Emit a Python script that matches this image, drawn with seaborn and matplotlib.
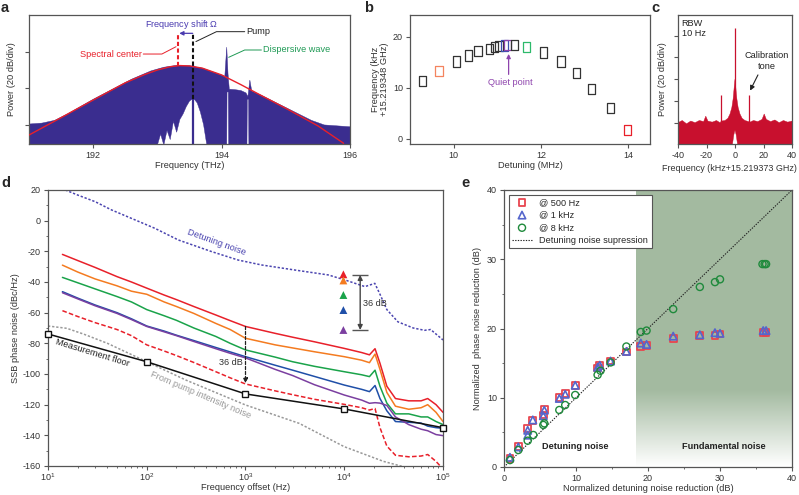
import numpy as np
import matplotlib
matplotlib.use("Agg")
import matplotlib.pyplot as plt
import seaborn as sns
from matplotlib.path import Path
from matplotlib.ticker import MultipleLocator, LogLocator, NullFormatter

sns.set_style("ticks")
plt.rcParams['font.family'] = ['Liberation Sans', 'DejaVu Sans']
plt.rcParams['mathtext.fontset'] = 'custom'
plt.rcParams['mathtext.rm'] = 'Liberation Sans'
plt.rcParams['mathtext.it'] = 'Liberation Sans:italic'
plt.rcParams['axes.unicode_minus'] = False
plt.rcParams['font.size'] = 6.6
plt.rcParams['xtick.labelsize'] = 6.5
plt.rcParams['ytick.labelsize'] = 6.5
plt.rcParams['axes.labelsize'] = 6.7
plt.rcParams['axes.edgecolor'] = '#555555'
plt.rcParams['axes.linewidth'] = 0.9
plt.rcParams['xtick.color'] = '#555555'
plt.rcParams['ytick.color'] = '#555555'
plt.rcParams['xtick.labelcolor'] = '#333333'
plt.rcParams['ytick.labelcolor'] = '#333333'
plt.rcParams['axes.labelcolor'] = '#333333'
plt.rcParams['xtick.major.size'] = 3
plt.rcParams['ytick.major.size'] = 3
plt.rcParams['xtick.minor.size'] = 1.5
plt.rcParams['ytick.minor.size'] = 1.5
plt.rcParams['xtick.major.pad'] = 2
plt.rcParams['ytick.major.pad'] = 2

FS = 6.6

# ---- a: optical spectrum ----
spec_hi_thz = [191.0, 191.2, 191.4, 191.6, 191.8, 192.0, 192.3, 192.6, 192.9, 193.1, 193.3, 193.5,
               193.7, 193.9, 194.05, 194.08, 194.1, 194.12, 194.2, 194.3, 194.38, 194.41, 194.44,
               194.47, 194.6, 194.8, 195.0, 195.2, 195.4, 195.6, 195.8, 196.0]
spec_hi_db = [0.5, 1.0, 2.5, 6, 10, 14, 19.5, 25, 29.5, 31.5, 32.5, 32.3,
              31, 28.5, 26.5, 42.5, 28, 19.5, 19.3, 18.8, 17.5, 15.5, 24.5,
              18.5, 16.5, 13, 9.5, 6, 2.5, 0, -0.5, -1]
spec_lo_thz = [191.0, 193.0, 193.05, 193.1, 193.15, 193.2, 193.25, 193.3, 193.35, 193.4, 193.45,
               193.5, 193.53, 193.58, 193.62, 193.67, 193.72, 193.77, 194.08, 194.085, 194.105,
               194.11, 194.395, 194.4, 194.42, 194.425, 196.0]
spec_lo_db = [-11, -11, -5, -11, -3, -8, 2, -4, 3, 6, 10,
              13, 13.8, 13.8, 12, 7, 0, -11, -11, 18, 18,
              -11, -11, 14, 14, -11, -11]
fit_thz = [191.0, 191.5, 192.0, 192.5, 192.8, 193.0, 193.2, 193.35, 193.5, 193.7, 194.0, 194.3,
           194.6, 195.0, 195.5, 195.9]
fit_db = [-5.5, 4, 13.6, 23, 27.5, 30, 31.8, 32.4, 32.2, 31, 27.3, 22, 16.4, 9.1, -0.5, -10]
pump_thz = 193.55
center_thz = 193.32

# ---- b: repetition rate vs detuning ----
det_mhz = [9.28, 9.66, 10.06, 10.34, 10.56, 10.82, 10.94, 11.04, 11.16, 11.24, 11.40, 11.67,
           12.06, 12.46, 12.82, 13.16, 13.59, 13.99]
rep_khz = [11.3, 13.3, 15.1, 16.3, 17.1, 17.5, 18.0, 18.1, 18.25, 18.3, 18.4, 18.0,
           16.9, 15.1, 12.9, 9.8, 6.1, 1.75]
rep_colors = ['#333333', '#f4845f', '#333333', '#333333', '#333333', '#333333', '#333333',
              '#333333', '#3d4fb0', '#8e44ad', '#333333', '#2dba6b', '#333333', '#333333',
              '#333333', '#333333', '#333333', '#e8202a']

# ---- c: RF beat note ----
c_hi_khz = [-40, -37, -34, -31, -28, -25, -22, -20.5, -19, -16, -13, -10.5, -9.5, -7, -5, -3.5,
            -2.2, -1.3, -0.6, 0, 0.6, 1.3, 2.2, 3.5, 5, 7, 9.5, 10.5, 13, 16, 19, 20.5, 22, 25,
            28, 31, 34, 37, 40]
c_hi_db = [0, 2, -1, 1.5, 0, 2, 1, 6, 1.5, 0.5, 2, 0, 1.5, 2, 4, 8,
           14, 22, 32, 40, 32, 22, 14, 8, 4, 2, 1, 0.5, 2, 1, 3, 8, 3, 1,
           2.5, 0, 2, 0.5, 1.5]
c_lo_khz = [-40, -1.8, -0.8, 0, 0.8, 1.8, 40]
c_lo_db = [-20, -20, -11, -7, -11, -20, -20]
c_spike_khz = [-10, 0, 10]
c_spike_db = [25.5, 87, 25.5]

# ---- d: phase noise ----
pn_hz = [14, 20, 30, 50, 70, 100, 150, 200, 300, 500, 700, 1000, 2000, 3000, 5000, 10000,
         15000, 18000, 20500, 23000, 27000, 33000, 45000, 60000, 70000, 85000, 100000]
pn_red = [-22, -26, -30.5, -36.5, -40, -44, -48.5, -51.5, -56, -61.5, -65.2, -69, -73.5, -76,
          -79, -83.3, -86, -87.5, -83.5, -93, -108, -116, -117.5, -117.5, -116, -120, -125]
pn_orange = [-29, -33.5, -38, -42.5, -46, -48, -53, -56, -60.5, -67, -71, -76.7, -81, -83,
             -85.5, -88.7, -91, -92.6, -87, -97, -112, -121, -123, -122, -120, -125, -131]
pn_green = [-37, -40.5, -44.5, -49.5, -53, -58, -62, -65, -70, -75.5, -80, -84.3, -89, -92,
            -95, -98.5, -100.5, -101.7, -97.5, -108, -119, -126, -126, -128, -128, -131, -133]
pn_blue = [-46.3, -50.5, -55, -60, -64, -68.7, -72, -74.7, -78.2, -82.7, -85.6, -88.7, -94.3,
           -97.5, -101.6, -107.2, -110, -111.5, -107.5, -116, -124, -131, -131.5, -132, -134,
           -135, -135.4]
pn_purple = [-47, -51, -55.5, -60.5, -64.5, -69, -72.5, -75, -78.8, -83.5, -86.5, -89.5, -97,
             -101, -107, -113.7, -117, -119.1, -118.7, -119, -120.5, -128, -133, -136, -137,
             -139.5, -140.2]
pn_red_dash = [-58.7, -62.5, -66.5, -71, -75, -81, -85, -88, -92.5, -98.5, -102.5, -106.5, -111,
               -113.5, -116.5, -119.8, -122, -123.5, -122.5, -135, -147, -153, -154, -153.5,
               -152.5, -157, -162]
det_noise_hz = [15, 20, 30, 44, 70, 121, 209, 455, 845, 1458, 3170, 6900, 10200, 16200, 20400,
                23000, 27000, 35000, 50000, 65000, 75000, 100000]
det_noise_db = [20, 16.7, 12.4, 7, 1.5, -5, -12.6, -20.2, -25.7, -28.9, -32.2, -35.4, -38.7, -43,
                -40.9, -48, -58, -66, -70, -71.5, -71, -77.8]
floor_hz = [10, 100, 1000, 10000, 100000]
floor_db = [-73.9, -92, -113, -122.8, -135]
pump_rin_hz = [10, 15.5, 23, 40, 100, 250, 1000, 3500, 10000, 25000, 40000]
pump_rin_db = [-68.7, -70.2, -74, -80, -92, -104, -120.2, -132.2, -147.4, -157, -160.5]
tri_db = [-35, -39, -48.5, -58.3, -71.3]
tri_colors = ['#e8202a', '#f47b20', '#1aa34a', '#1f4fa8', '#7b3fa0']

# ---- e: noise reduction ----
e_x_500 = [0.83, 1.99, 3.29, 4.0, 5.46, 5.6, 7.68, 8.5, 9.89, 13.0, 13.3, 14.8, 17.0, 19.0, 19.8,
           23.5, 27.2, 29.3, 30.0, 36.0, 36.4]
e_y_500 = [1.2, 3.0, 5.55, 6.75, 7.5, 8.3, 10.0, 10.6, 11.8, 14.3, 14.6, 15.3, 16.6, 17.4, 17.6,
           18.6, 19.0, 19.0, 19.2, 19.4, 19.4]
e_x_1k = [0.83, 1.99, 3.29, 3.29, 4.0, 5.46, 5.6, 7.68, 8.5, 9.89, 13.0, 13.3, 14.8, 17.0, 19.0,
          19.8, 23.5, 27.2, 29.3, 30.0, 36.0, 36.4]
e_y_1k = [1.4, 2.9, 4.6, 5.3, 6.8, 7.4, 8.2, 9.9, 10.5, 11.8, 14.4, 14.7, 15.3, 16.7, 17.9,
          17.7, 18.9, 19.1, 19.4, 19.3, 19.7, 19.7]
e_x_8k = [0.83, 1.99, 3.29, 4.07, 5.46, 5.6, 7.68, 8.5, 9.89, 13.0, 13.4, 14.8, 17.0, 19.0, 19.8,
          23.5, 27.2, 29.3, 30.0, 35.9, 36.2, 36.4]
e_y_8k = [1.0, 2.45, 3.8, 4.62, 6.07, 6.3, 8.23, 8.95, 10.4, 13.3, 13.9, 15.1, 17.4, 19.5, 19.7,
          22.8, 26.0, 26.7, 27.1, 29.3, 29.3, 29.3]
diag = [0, 40]
fund_start = 18.3

W, H = 799, 495
fig = plt.figure(figsize=(W / 100, H / 100), dpi=100)


def box(l, t, r, b):
    return fig.add_axes([l / W, 1 - b / H, (r - l) / W, (b - t) / H])


# ---------------- a ----------------
ax = box(29, 15, 350, 144)
ax.fill(spec_hi_thz + spec_lo_thz[::-1], spec_hi_db + spec_lo_db[::-1],
        color='#3a2d8f', lw=0.3, zorder=1)
ax.vlines(pump_thz, -11, 32.5, color='#3a2d8f', lw=1.6, zorder=2)
sns.lineplot(x=fit_thz, y=fit_db, color='#e8202a', lw=1.0, ax=ax, sort=False, zorder=3)
ax.vlines(center_thz, 32.4, 50, color='#e8202a', lw=1.5, ls=(0, (2, 1.2)), zorder=4)
ax.vlines(pump_thz, 14, 50, color='#111111', lw=1.5, ls=(0, (2, 1.2)), zorder=4)
ax.annotate('', xy=(center_thz + 0.02, 50), xytext=(pump_thz, 50),
            arrowprops=dict(arrowstyle='-|>', color='#4a3bb0', lw=0.9,
                            mutation_scale=6, shrinkA=0, shrinkB=0))
ax.text(193.38, 55, r'Frequency shift $\mathit{\Omega}$', color='#4a3bb0', ha='center',
        va='center', fontsize=FS)
ax.plot([193.6, 193.92, 194.36], [45.5, 50.9, 50.9], color='#222222', lw=0.7)
ax.text(194.39, 50.9, 'Pump', color='#222222', va='center', fontsize=FS)
ax.plot([193.29, 193.07, 192.78], [42.7, 38.7, 38.7], color='#e8202a', lw=0.7)
ax.text(192.76, 38.7, 'Spectral center', color='#e8202a', va='center', ha='right', fontsize=FS)
ax.plot([194.11, 194.36, 194.62], [36.9, 40.9, 40.9], color='#1f9a55', lw=0.7)
ax.text(194.65, 40.9, 'Dispersive wave', color='#1f9a55', va='center', fontsize=FS)
ax.set_xlim(191, 196)
ax.set_ylim(-10.4, 60)
ax.set_xticks([192, 194, 196])
ax.set_yticks([0, 20, 40])
ax.set_yticklabels([])
ax.set_xlabel('Frequency (THz)', labelpad=1)
ax.set_ylabel('Power (20 dB/div)', labelpad=4)

# ---------------- b ----------------
ax = box(410, 15, 650, 144)
rect = Path([(-0.36, -0.5), (0.36, -0.5), (0.36, 0.5), (-0.36, 0.5), (-0.36, -0.5)],
            [Path.MOVETO, Path.LINETO, Path.LINETO, Path.LINETO, Path.CLOSEPOLY])
ax.scatter(det_mhz, rep_khz, marker=rect, s=55, facecolors='none', edgecolors=rep_colors,
           linewidths=0.9, zorder=3)
ax.annotate('', xy=(11.26, 16.6), xytext=(11.26, 12.6),
            arrowprops=dict(arrowstyle='-|>', color='#8e44ad', lw=0.9, mutation_scale=6,
                            shrinkA=0, shrinkB=0))
ax.text(11.31, 11.0, 'Quiet point', color='#8e44ad', ha='center', va='center', fontsize=FS)
ax.set_xlim(9, 14.5)
ax.set_ylim(-1, 24.2)
ax.set_xticks([10, 12, 14])
ax.set_yticks([0, 10, 20])
ax.set_xlabel('Detuning (MHz)', labelpad=1)
ax.set_ylabel('Frequency (kHz\n+15.219348 GHz)', labelpad=3, linespacing=1.0)

# ---------------- c ----------------
ax = box(678, 15, 792, 144)
ax.fill(c_hi_khz + c_lo_khz[::-1], c_hi_db + c_lo_db[::-1], color='#c8102e', lw=0.3)
ax.vlines(c_spike_khz, [0, 30, 0], c_spike_db, color='#c8102e', lw=0.9)
ax.text(-37.4, 95, 'RBW\n10 Hz', ha='left', va='top', fontsize=FS, color='#222222',
        linespacing=1.1)
ax.text(22, 57, 'Calibration\ntone', ha='center', va='center', fontsize=FS, color='#222222',
        linespacing=1.3)
ax.annotate('', xy=(10.6, 29.5), xytext=(16.1, 43.9),
            arrowprops=dict(arrowstyle='-|>', color='#222222', lw=0.8, mutation_scale=7,
                            shrinkA=0, shrinkB=0))
ax.set_xlim(-40, 40)
ax.set_ylim(-19.6, 99)
ax.set_xticks([-40, -20, 0, 20, 40])
ax.set_yticks([0, 20, 40, 60, 80])
ax.set_yticklabels([])
ax.set_xlabel('Frequency (kHz+15.219373 GHz)', fontsize=6.5)
ax.xaxis.set_label_coords(0.45, -0.155)
ax.set_ylabel('Power (20 dB/div)', labelpad=3)

# ---------------- d ----------------
ax = box(48, 190, 443, 466)
for ys, col, ls in [(pn_red, '#e8202a', '-'), (pn_orange, '#f47b20', '-'),
                    (pn_green, '#1aa34a', '-'), (pn_blue, '#1f4fa8', '-'),
                    (pn_purple, '#7b3fa0', '-'), (pn_red_dash, '#e8202a', (0, (3, 1.5)))]:
    sns.lineplot(x=pn_hz, y=ys, color=col, lw=1.1, ls=ls, ax=ax, sort=False)
sns.lineplot(x=det_noise_hz, y=det_noise_db, color='#4b45b0', lw=1.1, ls=(0, (1.5, 1.2)),
             ax=ax, sort=False)
sns.lineplot(x=pump_rin_hz, y=pump_rin_db, color='#999999', lw=1.1, ls=(0, (1.5, 1.2)),
             ax=ax, sort=False)
ax.plot(floor_hz, floor_db, color='#111111', lw=1.1, marker='s', ms=4, mfc='white',
        mec='#111111', mew=1.0, zorder=5, clip_on=False)
ax.scatter([9800] * len(tri_db), tri_db, marker='^', s=32, c=tri_colors, zorder=5, lw=0)
ax.hlines([-35.4, -71.3], 11900, 17500, color='#555555', lw=1.0)
ax.annotate('', xy=(14500, -71.3), xytext=(14500, -35.4),
            arrowprops=dict(arrowstyle='<|-|>', color='#444444', lw=1.0, mutation_scale=7,
                            shrinkA=0, shrinkB=0))
ax.text(20500, -53.9, '36 dB', ha='center', va='center', fontsize=FS, color='#333333')
ax.annotate('', xy=(1000, -106), xytext=(1000, -69),
            arrowprops=dict(arrowstyle='-|>', color='#222222', lw=0.9, ls=(0, (2.5, 1.5)),
                            mutation_scale=7, shrinkA=0, shrinkB=0))
ax.text(940, -92.6, '36 dB', ha='right', va='center', fontsize=FS, color='#333333')
ax.text(514, -14.1, 'Detuning noise', color='#4b45b0', rotation=-20, ha='center',
        va='center', fontsize=FS, rotation_mode='anchor')
ax.text(28, -86, 'Measurement floor', color='#222222', rotation=-17, ha='center',
        va='center', fontsize=FS, rotation_mode='anchor')
ax.text(350, -114, 'From pump intensity noise', color='#999999', rotation=-23, ha='center',
        va='center', fontsize=FS, rotation_mode='anchor')
ax.set_xscale('log')
ax.set_xlim(10, 1e5)
ax.set_ylim(-160, 20)
ax.set_yticks(range(-160, 21, 20))
ax.yaxis.set_minor_locator(MultipleLocator(10))
ax.xaxis.set_minor_locator(LogLocator(base=10, subs=np.arange(2, 10)))
ax.xaxis.set_minor_formatter(NullFormatter())
ax.tick_params(axis='x', which='major', pad=1)
ax.set_xlabel('Frequency offset (Hz)', labelpad=0)
ax.set_ylabel('SSB phase noise (dBc/Hz)', labelpad=2)

# ---------------- e ----------------
ax = box(504, 190, 792, 467)
grad = np.ones((200, 1, 4))
grad[..., 0], grad[..., 1], grad[..., 2] = 0.64, 0.73, 0.63
fade = np.clip(np.linspace(40, 0, 200) / 11.0, 0, 1)
grad[:, 0, 3] = fade
ax.imshow(grad, extent=[fund_start, 40, 0, 40], aspect='auto', zorder=0, interpolation='bilinear')
ax.plot(diag, diag, color='#222222', lw=0.8, ls=(0, (1.2, 1.2)), zorder=2,
        label='Detuning noise supression')
sns.scatterplot(x=e_x_500, y=e_y_500, marker='s', s=24, facecolors='none', edgecolor='#e8454f',
                linewidth=1.3, ax=ax, zorder=3, label='@ 500 Hz')
sns.scatterplot(x=e_x_1k, y=e_y_1k, marker='^', s=28, facecolors='none', edgecolor='#5566cc',
                linewidth=1.2, ax=ax, zorder=4, label='@ 1 kHz')
sns.scatterplot(x=e_x_8k, y=e_y_8k, marker='o', s=26, facecolors='none', edgecolor='#1f8a3c',
                linewidth=1.0, ax=ax, zorder=5, label='@ 8 kHz')
h, l = ax.get_legend_handles_labels()
order = [1, 2, 3, 0]
leg = ax.legend([h[i] for i in order], [l[i] for i in order], loc='upper left',
                bbox_to_anchor=(0.01, 0.99), fontsize=FS, frameon=True, fancybox=False,
                edgecolor='#555555', borderpad=0.35, labelspacing=0.4, handletextpad=0.8,
                handlelength=2.2, borderaxespad=0.2)
leg.get_frame().set_linewidth(0.8)
leg.get_frame().set_alpha(1)
ax.text(9.95, 3.0, 'Detuning noise', fontweight='bold', ha='center', va='center', fontsize=FS,
        color='#222222')
ax.text(30.5, 3.0, 'Fundamental noise', fontweight='bold', ha='center', va='center',
        fontsize=FS, color='#222222')
ax.set_xlim(0, 40)
ax.set_ylim(0, 40)
ax.set_xticks([0, 10, 20, 30, 40])
ax.set_yticks([0, 10, 20, 30, 40])
ax.xaxis.set_minor_locator(MultipleLocator(5))
ax.yaxis.set_minor_locator(MultipleLocator(5))
ax.set_xlabel('Normalized detuning noise reduction (dB)', labelpad=1)
ax.set_ylabel('Normalized  phase noise reduction (dB)', labelpad=4)

for x, y, s in [(1, 1, 'a'), (364, 1, 'b'), (651, 1, 'c'), (1, 176, 'd'), (461, 176, 'e')]:
    fig.text(x / W, 1 - y / H, s, fontsize=10.5, fontweight='bold', va='top', ha='left')

fig.savefig('out.png', dpi=100)
